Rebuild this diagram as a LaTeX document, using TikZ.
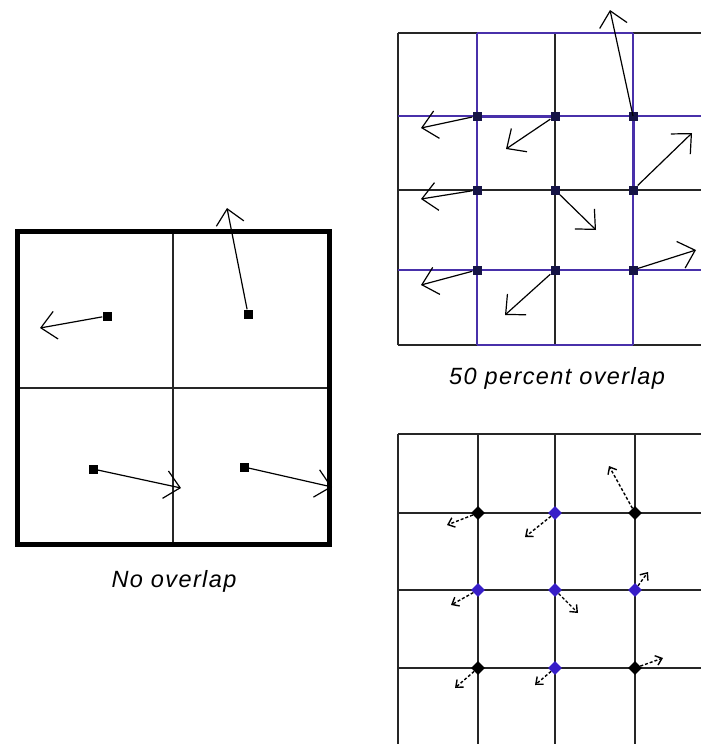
\documentclass[tikz,border=0pt]{standalone}
\usepackage{fontspec}
\setmainfont{Liberation Sans}
\newfontfamily\capfont[LetterSpace=6]{Liberation Sans}
\usetikzlibrary{arrows.meta,shapes.geometric}
\definecolor{winblue}{RGB}{72,48,170}
\definecolor{dotblue}{RGB}{55,30,200}
\definecolor{sqnavy}{RGB}{22,20,70}

\tikzset{
  gridline/.style={draw=black!85,line width=1.4pt},
  bluegrid/.style={draw=winblue,line width=1.4pt},
  vec/.style={-{Straight Barb[length=15pt,width=28pt]},line width=1.2pt},
  tinyvec/.style={-{Straight Barb[length=6pt,width=10pt]},line width=1.4pt,densely dashed},
  pix/.style={fill=black,inner sep=0pt,minimum size=9pt},
  gem/.style={diamond,fill=black,inner sep=0pt,minimum size=14pt},
  caption/.style={font=\capfont\itshape\fontsize{23.5}{27}\selectfont}
}

\begin{document}
\begin{tikzpicture}[x=1pt,y=-1pt]
  \useasboundingbox (0,0) rectangle (701,744);
  % no overlap: one window split in four cells
  \draw[gridline] (173,231) -- (173,544) (17,388) -- (329,388);
  \draw[line width=5pt] (17,231) rectangle (329,544);
  \node[pix] (a1) at (107,316) {};
  \node[pix] (a2) at (248,314) {};
  \node[pix] (a3) at (93,469) {};
  \node[pix] (a4) at (244,467) {};
  \coordinate (a1e) at (40,328);
  \coordinate (a2e) at (227,208);
  \coordinate (a3e) at (181,488);
  \coordinate (a4e) at (332,487);
  \draw[vec] (a1) -- (a1e);
  \draw[vec] (a2) -- (a2e);
  \draw[vec] (a3) -- (a3e);
  \draw[vec] (a4) -- (a4e);
  \node[caption] (nolap) at (174,581) {No overlap};

  % 50 percent overlap: black cells, blue windows shifted by half a cell
  \draw[gridline] (398,33) -- (701,33) (398,345) -- (701,345) (398,33) -- (398,345)
    (555,33) -- (555,345) (398,190) -- (701,190);
  \draw[bluegrid] (477,33) -- (477,345) (633,33) -- (633,345)
    (398,116) -- (701,116) (398,270) -- (701,270)
    (477,33) -- (633,33) (477,345) -- (633,345);
  \draw[winblue,line width=3pt] (477,116) -- (555,116) (633,116) -- (633,190);
  \node[pix,fill=sqnavy] (b11) at (477,116) {};
  \node[pix,fill=sqnavy] (b12) at (555,116) {};
  \node[pix,fill=sqnavy] (b13) at (633,116) {};
  \node[pix,fill=sqnavy] (b21) at (477,190) {};
  \node[pix,fill=sqnavy] (b22) at (555,190) {};
  \node[pix,fill=sqnavy] (b23) at (633,190) {};
  \node[pix,fill=sqnavy] (b31) at (477,270) {};
  \node[pix,fill=sqnavy] (b32) at (555,270) {};
  \node[pix,fill=sqnavy] (b33) at (633,270) {};
  \coordinate (b11e) at (421,128);
  \coordinate (b12e) at (506,149);
  \coordinate (b13e) at (610,10);
  \coordinate (b21e) at (421,199);
  \coordinate (b22e) at (596,230);
  \coordinate (b23e) at (692,133);
  \coordinate (b31e) at (421,285);
  \coordinate (b32e) at (505,315);
  \coordinate (b33e) at (696,250);
  \draw[vec] (b11) -- (b11e);
  \draw[vec] (b12) -- (b12e);
  \draw[vec] (b13.center) -- (b13e);
  \draw[vec] (b21) -- (b21e);
  \draw[vec] (b22) -- (b22e);
  \draw[vec] (b23) -- (b23e);
  \draw[vec] (b31) -- (b31e);
  \draw[vec] (b32) -- (b32e);
  \draw[vec] (b33) -- (b33e);
  \node[caption] (halflap) at (557,378) {50 percent overlap};

  % dense grid, one vector per node
  \draw[gridline] (398,434) -- (398,744) (478,434) -- (478,744)
    (555,434) -- (555,744) (635,434) -- (635,744)
    (398,434) -- (701,434) (398,513) -- (701,513)
    (398,590) -- (701,590) (398,668) -- (701,668);
  \node[gem] (c11) at (478,513) {};
  \node[gem,fill=dotblue] (c12) at (555,513) {};
  \node[gem] (c13) at (635,513) {};
  \node[gem,fill=dotblue] (c21) at (478,590) {};
  \node[gem,fill=dotblue] (c22) at (555,590) {};
  \node[gem,fill=dotblue] (c23) at (635,590) {};
  \node[gem] (c31) at (478,668) {};
  \node[gem,fill=dotblue] (c32) at (555,668) {};
  \node[gem] (c33) at (635,668) {};
  \coordinate (c11e) at (447,525);
  \coordinate (c12e) at (525,537);
  \coordinate (c13e) at (609,466);
  \coordinate (c21e) at (451,605);
  \coordinate (c22e) at (578,613);
  \coordinate (c23e) at (648,572);
  \coordinate (c31e) at (455,688);
  \coordinate (c32e) at (535,685);
  \coordinate (c33e) at (663,658);
  \draw[tinyvec] (c11) -- (c11e);
  \draw[tinyvec] (c12) -- (c12e);
  \draw[tinyvec] (c13) -- (c13e);
  \draw[tinyvec] (c21) -- (c21e);
  \draw[tinyvec] (c22) -- (c22e);
  \draw[tinyvec] (c23) -- (c23e);
  \draw[tinyvec] (c31) -- (c31e);
  \draw[tinyvec] (c32) -- (c32e);
  \draw[tinyvec] (c33) -- (c33e);
\end{tikzpicture}
\end{document}
